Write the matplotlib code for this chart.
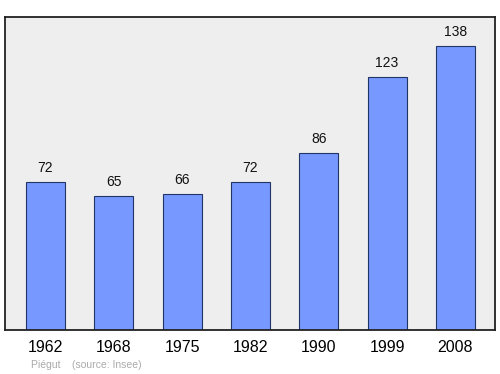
import matplotlib.pyplot as plt

plt.rcParams['font.family'] = ['Liberation Sans', 'DejaVu Sans']

years = ['1962', '1968', '1975', '1982', '1990', '1999', '2008']
population = [72, 65, 66, 72, 86, 123, 138]

fig = plt.figure(figsize=(5, 3.74), dpi=100)
ax = fig.add_axes([0.01, 0.1176, 0.98, 0.837])
ax.set_facecolor('#eeeeee')

x = range(len(years))
ax.bar(x, population, width=0.57, color='#7799ff', edgecolor='#223366', linewidth=0.8)
for i, v in zip(x, population):
    ax.text(i, v + 3.3, str(v), ha='center', va='bottom', fontsize=10, color='#111111')

ax.set_xlim(-0.593, 6.58)
ax.set_ylim(0, 152)
ax.set_yticks([])
ax.set_xticks(list(x))
ax.set_xticklabels(years, fontsize=11.5)
ax.tick_params(axis='x', length=0, pad=7)
for s in ax.spines.values():
    s.set_linewidth(1.3)
    s.set_color('#222222')

fig.text(0.062, 0.016, 'Piégut    (source: Insee)', fontsize=7.5, color='#aaaaaa')

fig.savefig('out.png', dpi=100)
